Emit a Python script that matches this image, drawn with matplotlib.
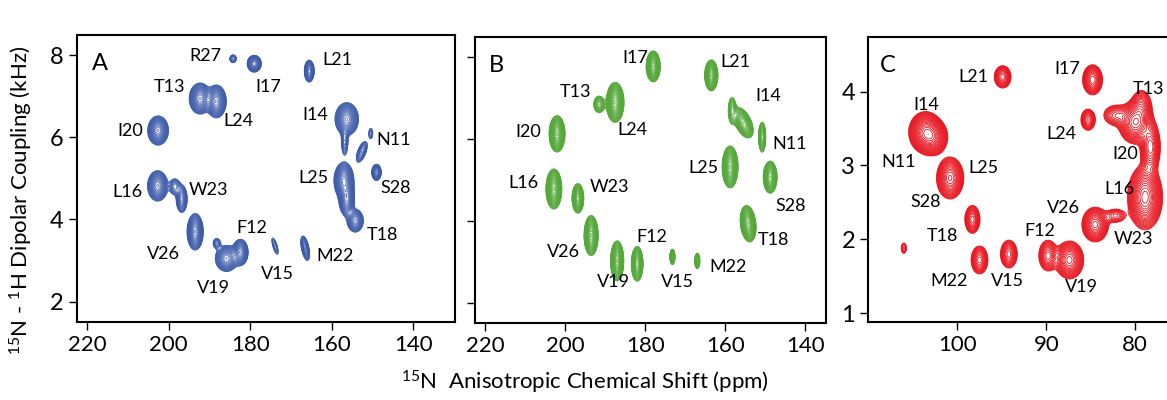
import numpy as np
import matplotlib
matplotlib.use("Agg")
import matplotlib.pyplot as plt

plt.rcParams['font.family'] = ['Lato', 'DejaVu Sans']
plt.rcParams['mathtext.fontset'] = 'custom'
plt.rcParams['mathtext.rm'] = 'Lato'
plt.rcParams['mathtext.it'] = 'Lato'

# peak components: centre (ppm, kHz), height, widths, tilt
A_x = [184.2, 179.0, 165.5, 192.3, 188.3, 202.6, 156.3, 156.8, 150.4, 152.6, 149.0,
       157.0, 156.3, 154.2, 202.7, 198.5, 196.8, 193.5, 185.8, 182.4, 188.2, 173.9, 166.5]
A_y = [7.92, 7.80, 7.62, 6.95, 6.88, 6.17, 6.45, 5.90, 6.10, 5.65, 5.15,
       4.95, 4.50, 3.97, 4.82, 4.80, 4.50, 3.70, 3.05, 3.20, 3.42, 3.35, 3.30]
A_amp = [0.22, 0.7, 0.7, 1.0, 1.0, 1.0, 1.0, 0.3, 0.18, 0.35, 0.6,
         1.0, 0.8, 0.6, 0.9, 0.3, 0.55, 1.0, 0.8, 0.8, 0.25, 0.2, 0.6]
A_sx = [0.6, 0.85, 0.6, 1.2, 1.1, 1.15, 1.3, 0.5, 0.4, 0.8, 0.6,
        1.1, 0.9, 1.0, 1.15, 0.8, 0.7, 0.9, 1.3, 0.9, 0.6, 0.6, 0.55]
A_sy = [0.07, 0.1, 0.13, 0.17, 0.18, 0.16, 0.18, 0.2, 0.1, 0.15, 0.1,
        0.2, 0.2, 0.14, 0.17, 0.12, 0.17, 0.2, 0.15, 0.15, 0.08, 0.15, 0.15]
A_rho = [0, 0, 0, 0, 0, 0, 0, 0, 0, -0.6, 0,
         0, 0, 0, 0, 0, 0, 0, 0, 0, 0, 0.7, 0.5]

A_lab = ['R27', 'I17', 'L21', 'T13', 'L24', 'I20', 'I14', 'N11', 'L25', 'S28', 'L16',
         'W23', 'F12', 'T18', 'V26', 'M22', 'V15', 'V19']
A_lx = [191.0, 175.6, 158.7, 199.9, 182.9, 209.4, 164.0, 144.9, 164.5, 144.4, 210.2,
        190.3, 179.5, 147.6, 201.3, 159.1, 173.4, 189.1]
A_ly = [7.98, 7.24, 7.88, 7.22, 6.41, 6.17, 6.56, 5.95, 5.02, 4.76, 4.66,
        4.73, 3.80, 3.61, 3.15, 3.10, 2.66, 2.34]

B_x = [178.0, 163.5, 191.5, 187.5, 202.0, 155.5, 158.3, 150.8, 158.8, 148.8, 202.8,
       196.8, 154.3, 193.5, 187.0, 182.0, 173.2, 167.0]
B_y = [7.78, 7.56, 6.85, 6.90, 6.13, 6.40, 6.70, 6.05, 5.32, 5.07, 4.78,
       4.55, 3.93, 3.64, 3.02, 2.95, 3.12, 3.02]
B_amp = [1.0, 1.0, 0.35, 1.0, 1.0, 0.7, 0.3, 0.45, 1.0, 0.9, 1.0,
         0.8, 1.0, 1.0, 1.0, 0.8, 0.5, 0.5]
B_sx = [0.8, 0.75, 0.8, 1.0, 0.9, 1.2, 0.6, 0.5, 0.9, 0.8, 0.9,
        0.7, 0.9, 0.8, 0.75, 0.7, 0.35, 0.35]
B_sy = [0.17, 0.17, 0.12, 0.22, 0.2, 0.18, 0.2, 0.2, 0.23, 0.18, 0.22,
        0.17, 0.2, 0.22, 0.22, 0.2, 0.1, 0.1]
B_rho = [0, 0, 0, 0, 0, 0.5, 0, 0, 0, 0, 0,
         0, 0.2, 0, 0, 0, 0, 0]

B_lab = ['I17', 'L21', 'T13', 'L24', 'I20', 'I14', 'N11', 'L25', 'L16', 'W23', 'S28',
         'F12', 'T18', 'V26', 'M22', 'V19', 'V15']
B_lx = [182.5, 157.5, 197.5, 183.3, 209.3, 149.3, 144.0, 165.5, 210.3, 189.0, 143.8,
        178.3, 148.0, 200.5, 159.3, 188.0, 172.0]
B_ly = [7.98, 7.88, 7.15, 6.22, 6.17, 7.05, 5.88, 5.29, 4.93, 4.83, 4.37,
        3.61, 3.54, 3.24, 2.88, 2.51, 2.51]

C_x = [94.9, 84.8, 103.6, 102.7, 85.3, 80.0, 79.3, 82.2, 78.3, 78.9, 100.8,
       98.3, 84.5, 82.2, 106.0, 97.5, 94.2, 89.8, 87.4]
C_y = [4.20, 4.16, 3.45, 3.38, 3.62, 3.58, 3.80, 3.68, 3.25, 2.57, 2.83,
       2.27, 2.20, 2.32, 1.88, 1.72, 1.80, 1.78, 1.72]
C_amp = [0.6, 0.8, 1.5, 1.0, 0.5, 1.2, 0.5, 0.4, 0.8, 1.5, 1.1,
         0.6, 1.0, 0.3, 0.2, 0.6, 0.6, 0.6, 1.0]
C_sx = [0.5, 0.55, 0.8, 0.75, 0.45, 0.85, 0.6, 0.8, 0.55, 0.85, 0.7,
        0.45, 0.7, 0.7, 0.25, 0.5, 0.5, 0.55, 0.75]
C_sy = [0.08, 0.1, 0.12, 0.11, 0.08, 0.13, 0.12, 0.08, 0.17, 0.19, 0.13,
        0.1, 0.11, 0.06, 0.06, 0.1, 0.1, 0.11, 0.12]
C_rho = [0] * 19

C_lab = ['L21', 'I17', 'T13', 'I14', 'L24', 'I20', 'N11', 'L25', 'L16', 'S28', 'V26',
         'T18', 'F12', 'W23', 'M22', 'V15', 'V19']
C_lx = [98.2, 87.6, 78.5, 103.5, 88.3, 81.1, 106.6, 97.1, 81.8, 103.6, 88.1,
        101.7, 90.7, 80.2, 100.9, 94.4, 86.0]
C_ly = [4.20, 4.30, 4.04, 3.82, 3.43, 3.15, 3.05, 2.97, 2.68, 2.51, 2.43,
        2.05, 2.11, 2.00, 1.43, 1.43, 1.36]


def spectrum(X, Y, px, py, amp, sx, sy, rho):
    Z = np.zeros_like(X)
    for i in range(len(px)):
        u = (X - px[i]) / sx[i]
        v = (Y - py[i]) / sy[i]
        r = rho[i]
        Z += amp[i] * np.exp(-(u**2 - 2*r*u*v + v**2) / (2*(1 - r**2)))
    return Z


def panel(ax, xlim, ylim, px, py, amp, sx, sy, rho, color, base, step, lw,
          labs, lx, ly, letter):
    xs = np.linspace(min(xlim), max(xlim), 700)
    ys = np.linspace(min(ylim), max(ylim), 600)
    X, Y = np.meshgrid(xs, ys)
    Z = spectrum(X, Y, px, py, amp, sx, sy, rho)
    levels = base * step ** np.arange(80)
    levels = levels[levels < Z.max()]
    ax.contour(X, Y, Z, levels=levels, colors=color, linewidths=lw)
    for i in range(len(labs)):
        ax.text(lx[i], ly[i], labs[i], fontsize=13, ha='center', va='center')
    ax.text(0.06, 0.9, letter, transform=ax.transAxes, fontsize=17,
            ha='center', va='center')
    ax.set_xlim(xlim)
    ax.set_ylim(ylim)
    for s in ax.spines.values():
        s.set_linewidth(1.5)
    ax.tick_params(direction='out', length=6, width=1, labelsize=17)
    ax.tick_params(axis='x', labelsize=16)


fig = plt.figure(figsize=(11.67, 4), dpi=100)
axA = fig.add_axes([0.066, 0.195, 0.324, 0.7175])
axB = fig.add_axes([0.407, 0.1925, 0.301, 0.715])
axC = fig.add_axes([0.744, 0.195, 0.2845, 0.7125])

axA.set_xticks([220, 200, 180, 160, 140])
axA.set_yticks([2, 4, 6, 8])
panel(axA, (222.5, 129.7), (1.5, 8.5), A_x, A_y, A_amp, A_sx, A_sy, A_rho,
      '#3d5bab', 0.08, 1.11, 0.45, A_lab, A_lx, A_ly, 'A')

axB.set_xticks([220, 200, 180, 160, 140])
axB.set_yticks([2, 4, 6, 8])
axB.set_yticklabels([])
panel(axB, (222.5, 134.8), (1.5, 8.5), B_x, B_y, B_amp, B_sx, B_sy, B_rho,
      '#55a83a', 0.08, 1.09, 0.45, B_lab, B_lx, B_ly, 'B')

axC.set_xticks([100, 90, 80])
axC.set_yticks([1, 2, 3, 4])
panel(axC, (110.0, 72.7), (0.88, 4.74), C_x, C_y, C_amp, C_sx, C_sy, C_rho,
      '#e8141e', 0.1, 1.14, 0.6, C_lab, C_lx, C_ly, 'C')

fig.text(0.018, 0.5, '$^{15}$N - $^{1}$H Dipolar Coupling (kHz)', rotation=90,
         fontsize=16, ha='center', va='center')
fig.text(0.501, 0.045, '$^{15}$N  Anisotropic Chemical Shift (ppm)',
         fontsize=16, ha='center', va='center')

fig.savefig('out.png', dpi=100)
